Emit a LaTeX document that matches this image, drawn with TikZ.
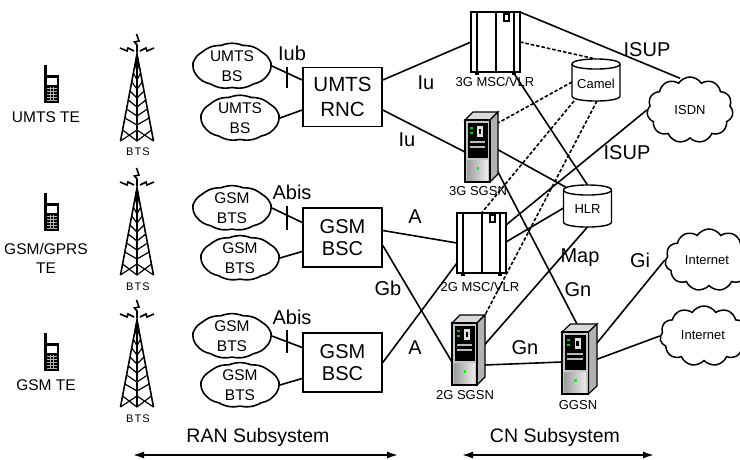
\documentclass[tikz,border=0pt]{standalone}
\usepackage{fontspec}
\setmainfont{Liberation Sans}
\newfontfamily\btsfont[LetterSpace=10]{Liberation Sans}
\usetikzlibrary{shapes.symbols,arrows.meta,calc}
\tikzset{
  conn/.style={line width=1.6pt},
  dconn/.style={line width=1.6pt, dash pattern=on 3.5pt off 2pt},
  netbox/.style={draw, line width=1.6pt, minimum width=79pt, minimum height=59pt, align=center},
  btscloud/.style={draw, line width=1.6pt, cloud, cloud puffs=11, cloud puff arc=45, cloud ignores aspect, minimum width=78pt, minimum height=44pt, align=center, font=\fontsize{15.5}{20}\selectfont},
  netcloud/.style={draw, line width=1.5pt, cloud, cloud puffs=11, cloud puff arc=115, cloud ignores aspect, font=\fontsize{13}{15}\selectfont},
  iconbox/.style={inner sep=0pt, outer sep=0pt},
  biglbl/.style={font=\fontsize{20}{20}\selectfont},
  smalllbl/.style={font=\fontsize{13}{13}\selectfont},
  telbl/.style={font=\fontsize{15.5}{19}\selectfont, align=center},
  btslbl/.style={font=\btsfont\fontsize{11}{11}\selectfont},
  sublbl/.style={font=\fontsize{19.5}{19.5}\selectfont},
  subspan/.style={line width=1.6pt, {Latex[length=11pt,width=7pt]}-{Latex[length=11pt,width=7pt]}},
  phoneicon/.pic={
    \fill (0,0) rectangle (2.5,11);
    \fill (0,10) rectangle (15,38);
    \fill[white] (3,13) rectangle (12.5,20);
    \foreach \yy in {23,26,29,32,35} {\draw[gray!60, line width=0.6pt] (3,\yy) -- (12.5,\yy);}
    \foreach \xx in {6.2,9.4} {\draw[gray!60, line width=0.6pt] (\xx,22) -- (\xx,36);}
  },
  towericon/.pic={
    \draw[line width=1.6pt] (-16.5,87) -- (0,0) -- (16.5,87);
    \draw[line width=1.2pt] (0,4) -- (0,87);
    \foreach \yy in {10,19,28,37,46,55,64} {\draw[line width=1.2pt] ({-0.19*\yy},\yy) -- (0,\yy+7) -- ({0.19*\yy},\yy);}
    \draw[line width=1.2pt] (-16.5,87) -- (0,76) -- (16.5,87);
    \draw[line width=1.2pt] (-14.4,76) -- (0,87) -- (14.4,76);
    \fill (0,-3) -- (-2.4,11) -- (2.4,11) -- cycle;
    \draw[line width=1.6pt] (0,-2) -- (0,-9) -- (-2.5,-12) -- (2,-13) -- (-0.5,-20);
    \draw[line width=1.6pt] (-3,-3) -- (-9,-6) -- (-10,-3) -- (-17,-6);
    \draw[line width=1.6pt] (3,-3) -- (9,-6) -- (10,-3) -- (17,-6);
  },
  servericon/.pic={
    \draw[line width=1.2pt, fill=gray!30] (0,8) -- (8,0) -- (33,0) -- (25,8) -- cycle;
    \draw[line width=1.2pt, fill=gray!60] (25,8) -- (33,0) -- (33,62) -- (25,70) -- cycle;
    \draw[line width=1.2pt, fill=gray!45] (0,8) rectangle (25,70);
    \fill[black] (2.5,11) rectangle (22.5,46);
    \fill[green!80!black] (4.5,15) rectangle (7.5,17);
    \fill[green!80!black] (4.5,20) rectangle (7.5,22);
    \fill[gray!25] (12,14) rectangle (18,25);
    \fill[black] (13.5,17) rectangle (16,22);
    \fill[gray!55] (5,29) rectangle (20,31);
    \fill[gray!55] (5,34) rectangle (20,36);
    \shade[left color=gray!75, right color=gray!15] (2.5,48) rectangle (22.5,68);
    \fill[green] (11.5,55) rectangle (14,57.5);
  },
  mscicon/.pic={
    \draw[line width=1.4pt, fill=white] (0,0) rectangle (49,60);
    \draw[line width=2.4pt] (6,0) -- (6,60);
    \draw[line width=2.4pt] (43,0) -- (43,60);
    \draw[line width=1.2pt] (25,0) -- (25,60);
    \draw[line width=1.2pt, fill=white] (33,2) rectangle (38,9);
    \fill (4,60) rectangle (8,62.5);
    \fill (41,60) rectangle (45,62.5);
  },
  cylicon/.pic={
    \draw[line width=1.4pt, fill=white] (-24,-16) -- (-24,16) .. controls (-24,22.7) and (24,22.7) .. (24,16) -- (24,-16) .. controls (24,-22.7) and (-24,-22.7) .. (-24,-16) -- cycle;
    \draw[line width=1.4pt] (-24,-16) .. controls (-24,-9.3) and (24,-9.3) .. (24,-16);
  },
}
\begin{document}
\begin{tikzpicture}[x=1pt,y=-1pt,line width=1.6pt,every node/.style={inner sep=0pt}]
\path[use as bounding box, clip] (0,0) rectangle (740,459);

% ---- terminals ----
\node[iconbox, minimum width=15pt, minimum height=38pt] (ph1) at (51.5,84) {};
\node[iconbox, minimum width=15pt, minimum height=38pt] (ph2) at (51.5,212) {};
\node[iconbox, minimum width=15pt, minimum height=38pt] (ph3) at (51.5,352) {};
\pic at (ph1.north west) {phoneicon};
\pic at (ph2.north west) {phoneicon};
\pic at (ph3.north west) {phoneicon};
\node[telbl] (te1) at (46,117) {UMTS TE};
\node[telbl] (te2) at (46,258.5) {GSM/GPRS\\TE};
\node[telbl] (te3) at (46,385) {GSM TE};

% ---- towers ----
\node[iconbox, minimum width=33pt, minimum height=87pt] (tw1) at (137,97.5) {};
\node[iconbox, minimum width=33pt, minimum height=87pt] (tw2) at (137,231.5) {};
\node[iconbox, minimum width=33pt, minimum height=87pt] (tw3) at (137,363.5) {};
\pic at (tw1.north) {towericon};
\pic at (tw2.north) {towericon};
\pic at (tw3.north) {towericon};
\node[btslbl] (bts1) at (138,152) {BTS};
\node[btslbl] (bts2) at (138,287) {BTS};
\node[btslbl] (bts3) at (138,419) {BTS};

% ---- RAN ----
\node[btscloud] (umtsbs1) at (232,66) {UMTS\\BS};
\node[btscloud] (umtsbs2) at (240,118) {UMTS\\BS};
\node[netbox, font=\fontsize{20.5}{24.5}\selectfont] (rnc) at (342.5,97) {UMTS\\RNC};
\node[btscloud] (gsmbts1) at (232,208) {GSM\\BTS};
\node[btscloud] (gsmbts2) at (240,258) {GSM\\BTS};
\node[netbox, font=\fontsize{20}{22}\selectfont] (bsc1) at (342.5,237.5) {GSM\\BSC};
\node[btscloud] (gsmbts3) at (232,336) {GSM\\BTS};
\node[btscloud] (gsmbts4) at (240,385) {GSM\\BTS};
\node[netbox, font=\fontsize{20}{22}\selectfont] (bsc2) at (342.5,362.5) {GSM\\BSC};

% ---- CN placeholders ----
\node[iconbox, minimum width=49pt, minimum height=60pt] (msc3) at (495.5,42) {};
\node[iconbox, minimum width=49pt, minimum height=60pt] (msc2) at (481.5,243) {};
\node[iconbox, minimum width=33pt, minimum height=70pt] (sgsn3) at (481.5,147) {};
\node[iconbox, minimum width=33pt, minimum height=70pt] (sgsn2) at (468.5,350) {};
\node[iconbox, minimum width=35pt, minimum height=70pt] (ggsn) at (579.5,359) {};
\node[iconbox, minimum width=48pt, minimum height=42pt] (camel) at (596,80) {};
\node[iconbox, minimum width=48pt, minimum height=42pt] (hlr) at (587.5,206) {};
\node[netcloud, minimum width=86pt, minimum height=66pt] (isdn) at (690,110) {ISDN};
\node[netcloud, minimum width=88pt, minimum height=62pt] (inet1) at (709,260) {};
\node[netcloud, minimum width=88pt, minimum height=60pt] (inet2) at (704,336) {};
\node[smalllbl] (inet1lbl) at (707,260) {Internet};
\node[smalllbl] (inet2lbl) at (703,335) {Internet};

% ---- connectors ----
\draw[conn] (umtsbs1.east) -- ($(rnc.west)+(0,-17)$);
\draw[conn] (umtsbs2.east) -- ($(rnc.west)+(0,13)$);
\draw[conn] (gsmbts1.east) -- ($(bsc1.west)+(0,-15)$);
\draw[conn] (gsmbts2.east) -- ($(bsc1.west)+(0,14)$);
\draw[conn] (gsmbts3.east) -- ($(bsc2.west)+(0,-15)$);
\draw[conn] (gsmbts4.east) -- ($(bsc2.west)+(0,16)$);
\coordinate (iubtick) at (287,77.5);
\coordinate (abistick1) at (287,217.5);
\coordinate (abistick2) at (287,341.5);
\draw[conn] ($(iubtick)+(0,-10.5)$) -- ($(iubtick)+(0,10.5)$);
\draw[conn] ($(abistick1)+(0,-12)$) -- ($(abistick1)+(0,12)$);
\draw[conn] ($(abistick2)+(0,-11.5)$) -- ($(abistick2)+(0,11.5)$);

\draw[conn] ($(rnc.east)+(0,-17)$) -- (msc3.west);
\draw[conn] ($(rnc.east)+(0,13)$) -- ($(sgsn3.west)+(0,5)$);
\draw[conn] (msc3.north east) -- ($(isdn.north)+(-10,2)$);
\draw[conn] (isdn.west) -- ($(msc2.north east)+(0,12)$);
\draw[dconn] (msc3.east) -- (camel.north);
\draw[dconn] ($(camel.west)+(0,2)$) -- ($(sgsn3.north east)+(0,11)$);
\draw[dconn] ($(camel.south west)+(2,0)$) -- (msc2.north);
\draw[dconn] ($(camel.south)+(1,0)$) -- (sgsn2.north east);
\draw[conn] ($(msc3.south east)+(-7,0)$) -- (hlr.north);
\draw[conn] ($(sgsn3.east)+(-5,0)$) -- ($(hlr.north west)+(2,2)$);
\draw[conn] ($(sgsn3.east)+(0,25)$) -- ($(ggsn.north)+(-1,3)$);
\draw[conn] ($(bsc1.east)+(0,-7)$) -- (msc2.west);
\draw[conn] ($(bsc1.east)+(0,8)$) -- ($(sgsn2.west)+(0,12)$);
\draw[conn] (bsc2.east) -- ($(msc2.south west)+(0,-10)$);
\draw[conn] ($(hlr.west)+(0,2)$) -- ($(msc2.east)+(0,-1)$);
\draw[conn] (hlr.south) -- ($(sgsn2.east)+(-5,0)$);
\draw[conn] ($(sgsn2.east)+(0,15)$) -- ($(ggsn.west)+(0,3)$);
\draw[conn] ($(ggsn.east)+(0,-16)$) -- (inet1.west);
\draw[conn] ($(ggsn.east)+(-2,1)$) -- (inet2.west);

% ---- CN icons ----
\pic at (msc3.north west) {mscicon};
\pic at (msc2.north west) {mscicon};
\pic at (sgsn3.north west) {servericon};
\pic at (sgsn2.north west) {servericon};
\pic[xscale=1.06] at (ggsn.north west) {servericon};
\pic at (camel) {cylicon};
\pic at (hlr) {cylicon};
\node[smalllbl] (camellbl) at (596,84) {Camel};
\node[smalllbl] (hlrlbl) at (587.5,209) {HLR};
\node[smalllbl] (msc3lbl) at (495,82) {3G MSC/VLR};
\node[smalllbl] (sgsn3lbl) at (478,191) {3G SGSN};
\node[smalllbl] (msc2lbl) at (480,287) {2G MSC/VLR};
\node[smalllbl] (sgsn2lbl) at (465,395) {2G SGSN};
\node[smalllbl] (ggsnlbl) at (578,405) {GGSN};

% ---- interface labels ----
\node[biglbl] (iub) at (292,53) {Iub};
\node[biglbl] (iu1) at (426,83) {Iu};
\node[biglbl] (iu2) at (407,140) {Iu};
\node[biglbl] (isup1) at (647,50) {ISUP};
\node[biglbl] (isup2) at (627,153) {ISUP};
\node[biglbl] (abis1) at (292,192) {Abis};
\node[biglbl] (abis2) at (292,317) {Abis};
\node[biglbl] (a1) at (415,217) {A};
\node[biglbl] (gb) at (388,288) {Gb};
\node[biglbl] (a2) at (415,348) {A};
\node[biglbl] (map) at (580,258) {Map};
\node[biglbl] (gn1) at (578,290) {Gn};
\node[biglbl] (gn2) at (525,348) {Gn};
\node[biglbl] (gi) at (640,260) {Gi};

% ---- subsystems ----
\node[sublbl] (ranlbl) at (258,437) {RAN Subsystem};
\node[sublbl] (cnlbl) at (555,437) {CN Subsystem};
\coordinate (ranL) at (133,455);
\coordinate (ranR) at (398,455);
\coordinate (cnL) at (462,455);
\coordinate (cnR) at (654,455);
\draw[subspan] (ranL) -- (ranR);
\draw[subspan] (cnL) -- (cnR);
\end{tikzpicture}
\end{document}
